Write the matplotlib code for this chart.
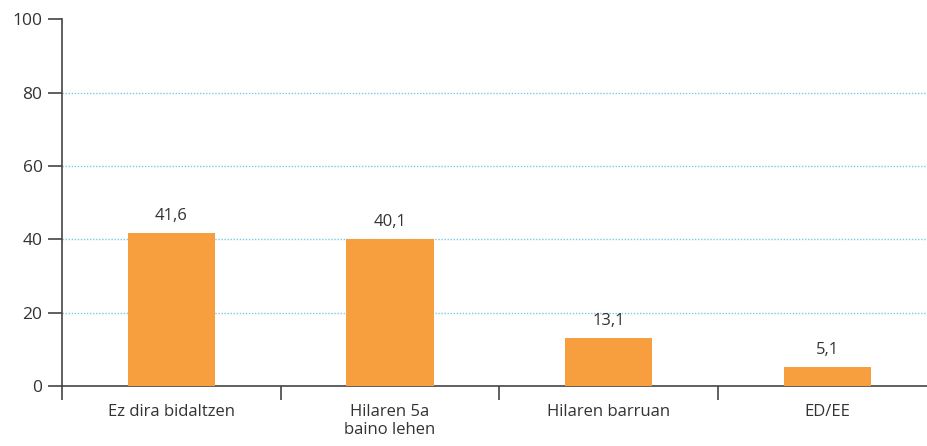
import matplotlib.pyplot as plt
from matplotlib.ticker import FixedLocator

categories = ["Ez dira bidaltzen", "Hilaren 5a\nbaino lehen", "Hilaren barruan", "ED/EE"]
values = [41.6, 40.1, 13.1, 5.1]
yticks = [0, 20, 40, 60, 80, 100]

plt.rcParams['font.family'] = ['Open Sans', 'DejaVu Sans']
text_color = '#333333'

fig = plt.figure(figsize=(9.28, 4.46), dpi=100)
ax = fig.add_axes([0.0668, 0.1345, 0.9332, 0.8226])

x = list(range(len(categories)))
ax.bar(x, values, width=0.4, color='#F79E3F', zorder=3)

for xi, v in zip(x, values):
    ax.text(xi, v + 2.5, f"{v:.1f}".replace('.', ','), ha='center', va='bottom',
            fontsize=12, color=text_color)

ax.set_ylim(0, 100)
ax.set_xlim(-0.5, 3.46)
ax.set_yticks(yticks)
ax.set_yticklabels([str(t) for t in yticks], fontsize=12.5, color=text_color)

for g in yticks[1:-1]:
    ax.axhline(g, color='#72CDEA', linestyle=(0, (1, 1.2)), linewidth=1.0, zorder=1)

ax.set_xticks(x)
ax.set_xticklabels(categories, fontsize=12, color=text_color, linespacing=1.15)
ax.tick_params(axis='x', length=0, pad=13)
ax.xaxis.set_minor_locator(FixedLocator([-0.5, 0.5, 1.5, 2.5, 3.5]))
ax.tick_params(axis='x', which='minor', length=10, width=1.2, color='#444444', direction='out')
ax.tick_params(axis='y', length=10, width=1.2, color='#444444', direction='out', pad=4)

for s in ['top', 'right']:
    ax.spines[s].set_visible(False)
for s in ['left', 'bottom']:
    ax.spines[s].set_color('#444444')
    ax.spines[s].set_linewidth(1.2)

fig.savefig('out.png', dpi=100)
